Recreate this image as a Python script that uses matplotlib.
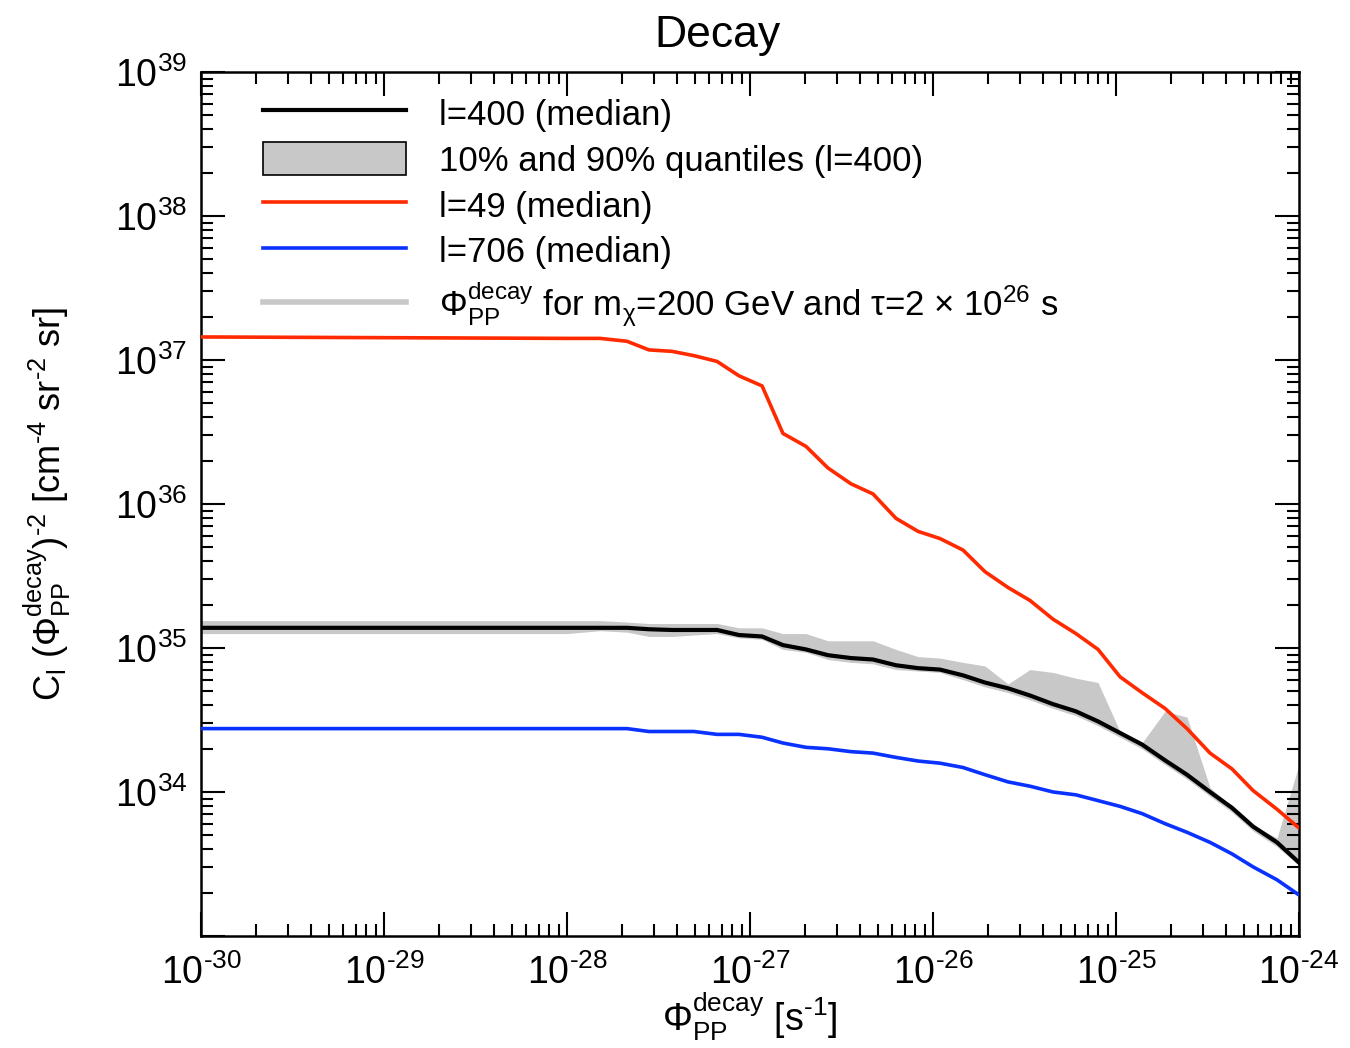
import matplotlib
matplotlib.use("Agg")
import matplotlib.pyplot as plt
import numpy as np
from matplotlib.lines import Line2D
from matplotlib.patches import Patch
from matplotlib.ticker import LogLocator, NullFormatter, FixedLocator, FixedFormatter

plt.rcParams['font.family'] = ['Liberation Sans', 'DejaVu Sans']
plt.rcParams['mathtext.fontset'] = 'custom'
plt.rcParams['mathtext.rm'] = 'Liberation Sans'
plt.rcParams['mathtext.it'] = 'Liberation Sans:italic'
plt.rcParams['mathtext.bf'] = 'Liberation Sans:bold'

# log10 of Phi_PP^decay [s^-1]
x_log = [-30.0, -28.0, -27.82, -27.672, -27.552, -27.426, -27.306, -27.18, -27.06,
         -26.934, -26.82, -26.694, -26.574, -26.448, -26.328, -26.202, -26.082,
         -25.962, -25.836, -25.716, -25.59, -25.47, -25.344, -25.219, -25.098,
         -24.978, -24.858, -24.732, -24.612, -24.486, -24.366, -24.251, -24.12, -24.0]

# log10 of C_l (Phi)^-2
l400_median = [35.14, 35.14, 35.14, 35.14, 35.13, 35.125, 35.125, 35.125, 35.09, 35.08,
               35.02, 34.99, 34.95, 34.93, 34.92, 34.88, 34.86, 34.85, 34.81, 34.76,
               34.72, 34.67, 34.61, 34.56, 34.49, 34.41, 34.33, 34.22, 34.12, 34.00,
               33.89, 33.76, 33.65, 33.51]
l400_q90 = [35.19, 35.19, 35.19, 35.18, 35.17, 35.17, 35.17, 35.17, 35.14, 35.14,
            35.10, 35.10, 35.05, 35.05, 35.05, 34.99, 34.94, 34.93, 34.90, 34.875,
            34.75, 34.85, 34.83, 34.79, 34.76, 34.42, 34.34, 34.56, 34.52, 34.03,
            33.90, 33.77, 33.68, 34.19]
l400_q10 = [35.10, 35.10, 35.12, 35.11, 35.08, 35.08, 35.09, 35.10, 35.07, 35.06,
            34.99, 34.97, 34.92, 34.90, 34.89, 34.85, 34.84, 34.83, 34.78, 34.73,
            34.69, 34.64, 34.58, 34.53, 34.46, 34.38, 34.30, 34.19, 34.09, 33.97,
            33.86, 33.73, 33.62, 33.49]
l49_median = [37.16, 37.15, 37.15, 37.13, 37.07, 37.06, 37.03, 36.99, 36.89, 36.82,
              36.49, 36.40, 36.25, 36.14, 36.07, 35.90, 35.81, 35.76, 35.68, 35.53,
              35.42, 35.33, 35.20, 35.10, 34.99, 34.80, 34.69, 34.58, 34.44, 34.27,
              34.16, 34.01, 33.88, 33.75]
l706_median = [34.44, 34.44, 34.44, 34.44, 34.42, 34.42, 34.42, 34.40, 34.40, 34.38,
               34.34, 34.31, 34.30, 34.28, 34.27, 34.24, 34.215, 34.20, 34.17, 34.12,
               34.07, 34.04, 34.00, 33.98, 33.94, 33.90, 33.85, 33.78, 33.72, 33.65,
               33.57, 33.48, 33.39, 33.285]

labels = ['l=400 (median)', '10% and 90% quantiles (l=400)', 'l=49 (median)',
          'l=706 (median)',
          r'$\Phi^{\mathrm{decay}}_{\mathrm{PP}}$ for m$_{\mathrm{χ}}$=200 GeV and τ=2 × 10$^{26}$ s']

x = 10.0 ** np.array(x_log)
p = lambda a: 10.0 ** np.array(a)

fig = plt.figure(figsize=(13.5, 10.48), dpi=100)
ax = fig.add_axes([0.1489, 0.1069, 0.8133, 0.8244])

ax.fill_between(x, p(l400_q10), p(l400_q90), color='#c8c8c8', lw=0, zorder=1)
ax.plot(x, p(l49_median), color='#ff2a00', lw=2.6, zorder=3)
ax.plot(x, p(l706_median), color='#0a32ff', lw=2.6, zorder=3)
ax.plot(x, p(l400_median), color='black', lw=3.0, zorder=4)

ax.set_xscale('log')
ax.set_yscale('log')
ax.set_xlim(1e-30, 1e-24)
ax.set_ylim(1e33, 1e39)

def sci(v):
    e = int(round(np.log10(v)))
    if e < 0:
        return r'$10^{\text{-}%d}$' % (-e)
    return r'$10^{%d}$' % e

xt = [1e-30, 1e-29, 1e-28, 1e-27, 1e-26, 1e-25, 1e-24]
ax.xaxis.set_major_locator(FixedLocator(xt))
ax.xaxis.set_major_formatter(FixedFormatter([sci(v) for v in xt]))
yt = [1e33, 1e34, 1e35, 1e36, 1e37, 1e38, 1e39]
ax.yaxis.set_major_locator(FixedLocator(yt))
ax.yaxis.set_major_formatter(FixedFormatter([''] + [sci(v) for v in yt[1:]]))
ax.xaxis.set_minor_locator(LogLocator(base=10, subs=np.arange(2, 10), numticks=100))
ax.yaxis.set_minor_locator(LogLocator(base=10, subs=np.arange(2, 10), numticks=100))
ax.xaxis.set_minor_formatter(NullFormatter())
ax.yaxis.set_minor_formatter(NullFormatter())

ax.tick_params(which='both', direction='in', top=True, right=True, width=1.5, colors='black')
ax.tick_params(which='major', length=17, labelsize=27)
ax.tick_params(axis='x', which='major', pad=13)
ax.tick_params(axis='y', which='major', pad=10)
ax.tick_params(which='minor', length=8.5)
for s in ax.spines.values():
    s.set_linewidth(1.8)

ax.set_title('Decay', fontsize=32, x=0.47, pad=18)
ax.set_xlabel(r'$\Phi^{\mathrm{decay}}_{\mathrm{PP}}$ [s$^{\text{-}1}$]', fontsize=27, labelpad=-1)
ax.set_ylabel(r'C$_{\mathrm{l}}$ ($\Phi^{\mathrm{decay}}_{\mathrm{PP}}$)$^{\text{-}2}$ [cm$^{\text{-}4}$ sr$^{\text{-}2}$ sr]',
              fontsize=26, labelpad=30)

handles = [Line2D([], [], color='black', lw=3.0),
           Patch(facecolor='#c8c8c8', edgecolor='black', lw=1.2),
           Line2D([], [], color='#ff2a00', lw=2.6),
           Line2D([], [], color='#0a32ff', lw=2.6),
           Line2D([], [], color='#c8c8c8', lw=4)]
leg = ax.legend(handles, labels, loc='upper left', bbox_to_anchor=(0.044, 0.988),
                frameon=False, fontsize=25, handlelength=4.1, handleheight=1.1,
                handletextpad=0.95, labelspacing=0.3, borderaxespad=0)

fig.savefig('out.png', dpi=100)
